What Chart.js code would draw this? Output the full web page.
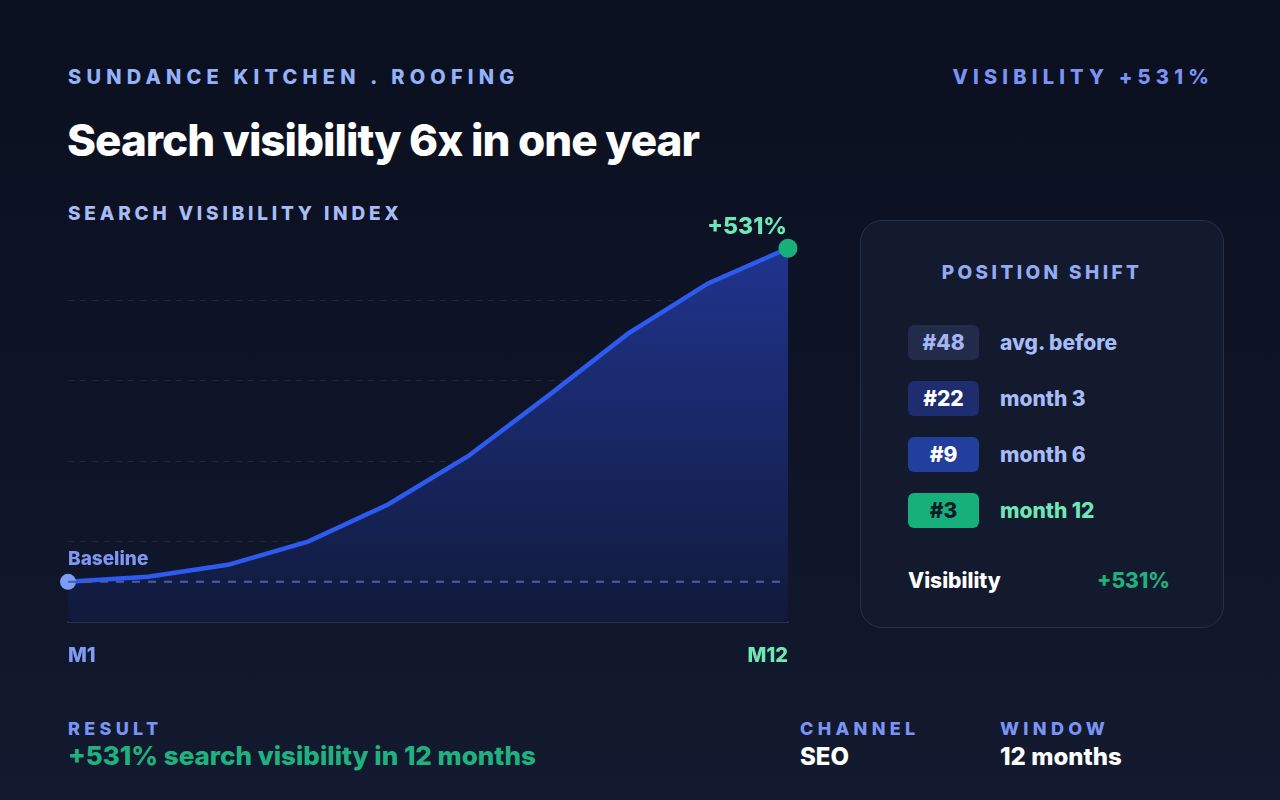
<!DOCTYPE html>
<html>
<head>
<meta charset="utf-8">
<script src="https://cdn.jsdelivr.net/npm/chart.js@4.4.1/dist/chart.umd.min.js"></script>
<style>
  html, body { margin: 0; padding: 0; }
  body {
    width: 1280px; height: 800px; overflow: hidden; position: relative;
    background: linear-gradient(180deg, #0b1020 0%, #0e1426 50%, #131a2f 100%);
    font-family: Inter, "Noto Sans", sans-serif; color: #fff;
  }
  .abs { position: absolute; white-space: nowrap; }
  .kicker { font-weight: 800; font-size: 20px; letter-spacing: 5.2px; color: #93b2f8; }
  .title { font-weight: 800; font-size: 44px; letter-spacing: -1px; color: #ffffff; }
  .label { font-weight: 800; font-size: 19px; letter-spacing: 3.8px; color: #a7bcf6; }
  .foot-k { font-weight: 800; font-size: 18px; letter-spacing: 4.3px; color: #7b93f2; }
  .foot-v { font-weight: 800; font-size: 24px; color: #fff; }
  #chartBox { position: absolute; left: 40px; top: 180px; width: 780px; height: 524px; }
  .panel {
    position: absolute; left: 860px; top: 220px; width: 362px; height: 406px;
    background: #141a2e; border: 1.5px solid #263049; border-radius: 22px;
  }
  .panel h3 {
    margin: 0; position: absolute; top: 40px; left: 0; width: 100%; text-align: center;
    font-size: 19px; font-weight: 800; letter-spacing: 3.4px; color: #93a9f2;
  }
  .row { position: absolute; left: 47px; height: 35px; display: flex; align-items: center; }
  .badge {
    width: 71px; height: 35px; border-radius: 6px; display: flex; align-items: center;
    justify-content: center; font-weight: 800; font-size: 21px;
  }
  .row span.t { margin-left: 21px; font-weight: 800; font-size: 21px; color: #a7bcf6; }
</style>
</head>
<body>
<div class="abs kicker" style="left:68px; top:65px;">SUNDANCE KITCHEN . ROOFING</div>
<div class="abs kicker" style="right:66px; top:65px; color:#7b93f5;">VISIBILITY +531%</div>
<div class="abs title" style="left:67px; top:113px;">Search visibility 6x in one year</div>
<div class="abs label" style="left:68px; top:202px;">SEARCH VISIBILITY INDEX</div>

<div id="chartBox"><canvas id="chart"></canvas></div>

<div class="panel">
  <h3>POSITION SHIFT</h3>
  <div id="rows"></div>
  <div class="abs" style="left:47px; top:347px; font-weight:800; font-size:21px; color:#fff;">Visibility</div>
  <div class="abs" style="left:236px; top:347px; font-weight:800; font-size:21px; color:#1fb27e;">+531%</div>
</div>

<div class="abs foot-k" style="left:68px; top:718px;">RESULT</div>
<div class="abs foot-v" style="left:68px; top:740px; font-size:26px; color:#1fb27e;">+531% search visibility in 12 months</div>
<div class="abs foot-k" style="left:800px; top:718px;">CHANNEL</div>
<div class="abs foot-v" style="left:800px; top:742px;">SEO</div>
<div class="abs foot-k" style="left:1000px; top:718px;">WINDOW</div>
<div class="abs foot-v" style="left:1000px; top:742px;">12 months</div>

<script>
// checkpoints across the 12 months
const months = ['M1', 'M2', 'M3', 'M4', 'M5', 'M7', 'M8', 'M9', 'M10', 'M12'];
const visibility = [100, 108, 127, 164, 223, 300, 396, 495, 575, 631];
const baseline = [100, 100, 100, 100, 100, 100, 100, 100, 100, 100];
const yTicks = { min: 36, max: 676, step: 128 };

const positions = [
  { rank: '#48', label: 'avg. before', bg: '#232b4b', fg: '#a3b5f2', lc: '#a7bcf6' },
  { rank: '#22', label: 'month 3', bg: '#1e2c70', fg: '#ffffff', lc: '#a7bcf6' },
  { rank: '#9', label: 'month 6', bg: '#233f9e', fg: '#ffffff', lc: '#a7bcf6' },
  { rank: '#3', label: 'month 12', bg: '#17b07b', fg: '#0b1a26', lc: '#6ee7b7' }
];

document.getElementById('rows').innerHTML = positions.map((p, i) => (
  `<div class="row" style="top:${104 + i * 56}px">
    <div class="badge" style="background:${p.bg};color:${p.fg}">${p.rank}</div>
    <span class="t" style="color:${p.lc}">${p.label}</span>
  </div>`
)).join('');

const last = visibility.length - 1;

// Baseline / end labels tied to the points
const annotate = {
  id: 'annotate',
  afterDatasetsDraw(chart) {
    const { ctx, scales: { x, y } } = chart;
    ctx.save();
    ctx.textBaseline = 'middle';
    ctx.font = '800 19px Inter, sans-serif';
    ctx.fillStyle = '#7f97f3';
    ctx.textAlign = 'left';
    ctx.fillText('Baseline', x.getPixelForValue(0), y.getPixelForValue(baseline[0]) - 23);
    ctx.font = '800 23px Inter, sans-serif';
    ctx.fillStyle = '#6ee7b7';
    ctx.textAlign = 'right';
    ctx.fillText('+531%', x.getPixelForValue(last) - 1, y.getPixelForValue(visibility[last]) - 21);
    ctx.restore();
  }
};

new Chart(document.getElementById('chart'), {
  type: 'line',
  data: {
    labels: months,
    datasets: [{
      data: visibility,
      borderColor: '#2d5bf0',
      borderWidth: 4.5,
      tension: 0,
      fill: 'start',
      backgroundColor: (c) => {
        const a = c.chart.chartArea;
        if (!a) return '#1a2866';
        const g = c.chart.ctx.createLinearGradient(0, a.top, 0, a.bottom);
        g.addColorStop(0, '#213694');
        g.addColorStop(1, '#111a3b');
        return g;
      },
      pointRadius: visibility.map((v, i) => i === 0 ? 8 : (i === last ? 9.5 : 0)),
      pointBackgroundColor: visibility.map((v, i) => i === last ? '#17b07b' : '#7f9cf5'),
      pointBorderWidth: 0,
      order: 1
    }, {
      data: baseline,
      borderColor: '#4a5ea6',
      borderWidth: 2,
      borderDash: [8, 8],
      pointRadius: 0,
      fill: false,
      order: 0
    }]
  },
  options: {
    responsive: true,
    maintainAspectRatio: false,
    animation: false,
    layout: { padding: { left: 28, right: 32, top: 40, bottom: 14 } },
    plugins: { legend: { display: false }, tooltip: { enabled: false } },
    scales: {
      x: {
        grid: { display: false, drawTicks: false },
        border: { display: true, color: '#28314b', width: 2 },
        ticks: {
          autoSkip: false, maxRotation: 0, align: 'inner', padding: 22,
          font: { family: 'Inter', weight: '800', size: 20 },
          color: (c) => c.index === last ? '#6ee7b7' : '#7f9cf5',
          callback: (v, i) => (i === 0 || i === last) ? months[i] : ''
        }
      },
      y: {
        min: yTicks.min, max: yTicks.max,
        grid: {
          drawTicks: false,
          color: (c) => (c.tick.value === yTicks.min || c.tick.value === yTicks.max) ? 'transparent' : '#1e263a'
        },
        border: { display: false, dash: [6, 6] },
        ticks: { display: false, stepSize: yTicks.step }
      }
    }
  },
  plugins: [annotate]
});
</script>
</body>
</html>
